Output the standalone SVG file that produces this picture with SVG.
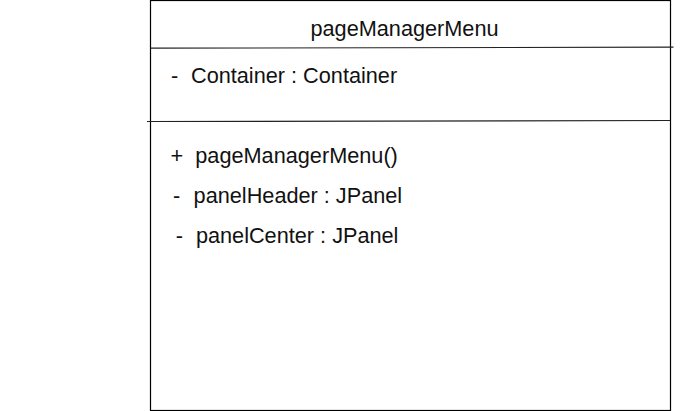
<svg xmlns="http://www.w3.org/2000/svg" width="690" height="411" viewBox="0 0 690 411">
  <style>
    .t { font-family: "Liberation Sans", Arial, sans-serif; font-size: 21.7px; fill: #111; }
    .box { fill: #fff; stroke: #000; stroke-width: 1.2; }
    .sep { stroke: #222; stroke-width: 1.2; fill: none; }
  </style>
  <rect width="690" height="411" fill="#fff"/>
  <g id="pageManagerMenu">
    <rect class="box" x="150.5" y="0.5" width="520" height="410"/>
    <text class="t" x="404.5" y="35.5" text-anchor="middle">pageManagerMenu</text>
    <g id="attributes">
      <text class="t" x="171" y="83">-</text>
      <text class="t" x="191" y="83">Container : Container</text>
    </g>
    <g id="operations">
      <text class="t" x="170.6" y="163">+</text>
      <text class="t" x="195.3" y="163">pageManagerMenu()</text>
      <text class="t" x="173" y="203">-</text>
      <text class="t" x="193.6" y="203">panelHeader : JPanel</text>
      <text class="t" x="175.7" y="243">-</text>
      <text class="t" x="195.9" y="243">panelCenter : JPanel</text>
    </g>
  </g>
  <g id="connectors">
    <line class="sep" x1="150.5" y1="48.2" x2="673.5" y2="47.2"/>
    <line class="sep" x1="147" y1="121.5" x2="670.5" y2="120.5"/>
  </g>
</svg>
